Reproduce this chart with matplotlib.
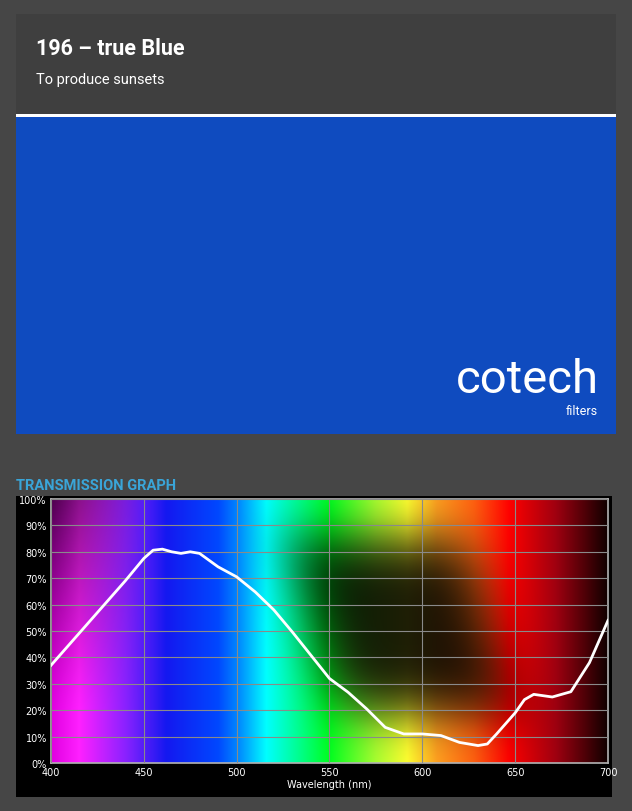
import numpy as np
import matplotlib
matplotlib.use("Agg")
import matplotlib.pyplot as plt
from matplotlib.colors import to_rgb
from matplotlib.patches import Rectangle

W, H = 632, 812

title = "196 \u2013 true Blue"
subtitle = "To produce sunsets"
section_label = "TRANSMISSION GRAPH"

wavelength = [400, 410, 420, 430, 440, 450, 455, 460, 465, 470, 475, 480, 490, 500,
              510, 520, 530, 540, 550, 560, 570, 580, 590, 600, 610, 620, 630, 635,
              640, 650, 655, 660, 670, 680, 690, 700]
transmission = [37, 45, 53, 61, 69, 77.5, 80.6, 81, 80, 79.4, 80, 79.4, 74.3, 70.5,
                64.8, 58, 49.6, 40.8, 32, 26.8, 20.5, 13.5, 11, 11, 10.4, 7.8, 6.6, 7.2,
                11, 19, 24, 26, 25, 27, 38, 54]
x_ticks = [400, 450, 500, 550, 600, 650, 700]
y_ticks = list(range(0, 101, 10))

# spectrum colour stops (wavelength, colour)
spec_wl = [400, 415, 440, 462, 490, 502, 516, 532, 550, 575, 592, 608, 628, 647, 672, 700]
spec_col = ["#e000e0", "#ff20ff", "#8a22ff", "#1418f0", "#0048ff", "#0090ff", "#00ffff",
            "#00ff98", "#00ff20", "#a8ff30", "#ffff30", "#ffa020", "#ff6010", "#ff0000",
            "#a00010", "#100000"]

fig = plt.figure(figsize=(W / 100, H / 100), dpi=100)
fig.patch.set_facecolor("#464646")


def px_axes(x0, y0, x1, y1):
    return fig.add_axes([x0 / W, 1 - y1 / H, (x1 - x0) / W, (y1 - y0) / H])


bg = px_axes(0, 0, W, H)
bg.set_xlim(0, W)
bg.set_ylim(H, 0)
bg.axis("off")
bg.add_patch(Rectangle((16, 15), 600, 100, color="#3f3f3f", lw=0))
bg.add_patch(Rectangle((16, 115), 600, 3, color="white", lw=0))
bg.add_patch(Rectangle((16, 118), 600, 317, color="#0f4bbf", lw=0))
bg.add_patch(Rectangle((16, 497), 596, 301, color="black", lw=0))
bg.text(36, 49, title, color="white", fontsize=15.5, fontweight="bold", family="Roboto", va="center")
bg.text(36, 80, subtitle, color="white", fontsize=10.5, family="Roboto", va="center")
bg.text(599, 380, "cotech", color="white", fontsize=34, family="Roboto", ha="right", va="center")
bg.text(598, 412, "filters", color="white", fontsize=9, family="Roboto", ha="right", va="center")
bg.text(16, 486, section_label, color="#3aa5d8", fontsize=10.5, fontweight="bold",
        family="Roboto", va="center")

ax = px_axes(51, 500, 608, 764)

# spectrum background with soft shading bands
xs = np.linspace(400, 700, 600)
ys = np.linspace(0, 100, 300)
rgb_stops = np.array([to_rgb(c) for c in spec_col])
base = np.stack([np.interp(xs, spec_wl, rgb_stops[:, i]) for i in range(3)], axis=-1)
X, Y = np.meshgrid(xs, ys)
left_amt = np.clip((450 - X) / 50, 0, 1) * 0.65
left_shape = np.clip((Y - 20) / 80, 0, 1) ** 1.2
mid_amt = 0.88 * np.exp(-((X - 590 + 0.4 * (Y - 50)) / 52) ** 4)
mid_shape = np.exp(-((Y - 52) / 36) ** 4)
dark = np.clip(left_amt * left_shape + mid_amt * mid_shape, 0, 0.9)
img = base[None, :, :] * (1 - dark[..., None])
ax.imshow(img, extent=[400, 700, 0, 100], origin="lower", aspect="auto", zorder=0)

ax.plot(wavelength, transmission, color="white", lw=2, zorder=3)
ax.set_xlim(400, 700)
ax.set_ylim(0, 100)
ax.set_xticks(x_ticks)
ax.set_yticks(y_ticks)
ax.set_yticklabels([f"{v}%" for v in y_ticks])
ax.grid(True, color="#8a8a8a", lw=0.8, zorder=2)
ax.set_axisbelow(False)
ax.tick_params(colors="white", labelsize=7, length=0, pad=3)
for s in ax.spines.values():
    s.set_color("#b5b5b5")
    s.set_linewidth(1.2)
ax.set_xlabel("Wavelength (nm)", color="white", fontsize=7, labelpad=1)

fig.savefig("out.png", dpi=100, facecolor=fig.get_facecolor())
